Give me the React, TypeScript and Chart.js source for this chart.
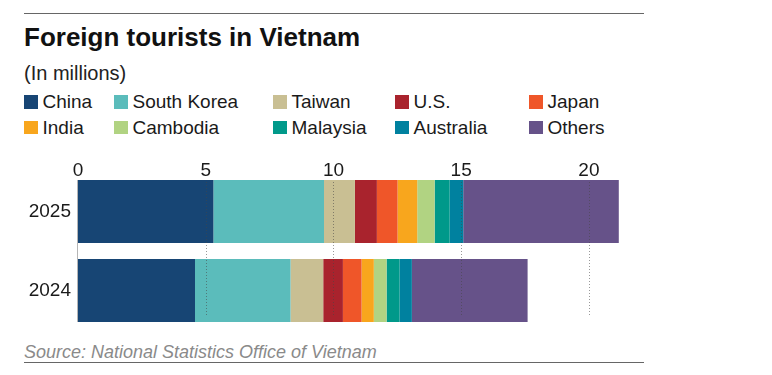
import React, { useEffect, useRef } from "react";
import { Chart, registerables } from "chart.js";

Chart.register(...registerables);

const years = ["2025", "2024"];
const seriesNames = ["China", "South Korea", "Taiwan", "U.S.", "Japan", "India", "Cambodia", "Malaysia", "Australia", "Others"];
const seriesColors = ["#174574", "#5bbcbb", "#c9bf93", "#a9232d", "#ef5629", "#f8a61d", "#b1d382", "#00998a", "#00819f", "#665289"];
const china = [5.3, 4.58];
const southKorea = [4.33, 3.74];
const taiwan = [1.21, 1.28];
const us = [0.86, 0.77];
const japan = [0.81, 0.73];
const india = [0.77, 0.48];
const cambodia = [0.68, 0.5];
const malaysia = [0.59, 0.51];
const australia = [0.53, 0.48];
const others = [6.09, 4.53];
const xTicks = [0, 5, 10, 15, 20];
const xMax = 22;

const FONT = '"Liberation Sans", Arial, Helvetica, sans-serif';

const legendCols = [24, 114, 273, 395, 529];

const overlayPlugin = {
  id: "overlay",
  afterDatasetsDraw(chart: any) {
    const { ctx, chartArea, scales } = chart;
    const x = scales.x;
    ctx.save();
    // dotted gridlines drawn over the bars
    ctx.strokeStyle = "rgba(70,70,70,0.55)";
    ctx.lineWidth = 1;
    ctx.setLineDash([1, 2]);
    xTicks.forEach((v) => {
      if (v === 0) return;
      const px = Math.round(x.getPixelForValue(v)) + 0.5;
      ctx.beginPath();
      ctx.moveTo(px, chartArea.top + 10);
      ctx.lineTo(px, chartArea.bottom - 14);
      ctx.stroke();
    });
    ctx.setLineDash([]);
    // left axis line
    ctx.strokeStyle = "#b5b5b5";
    const p0 = Math.round(x.getPixelForValue(0)) - 0.5;
    ctx.beginPath();
    ctx.moveTo(p0, chartArea.top + 8);
    ctx.lineTo(p0, chartArea.bottom - 8);
    ctx.stroke();
    ctx.restore();
  },
};

export default function App() {
  const ref = useRef<HTMLCanvasElement | null>(null);

  useEffect(() => {
    if (!ref.current) return;
    const values = [china, southKorea, taiwan, us, japan, india, cambodia, malaysia, australia, others];
    const chart = new Chart(ref.current, {
      type: "bar",
      data: {
        labels: years,
        datasets: seriesNames.map((name, i) => ({
          label: name,
          data: values[i],
          backgroundColor: seriesColors[i],
          borderWidth: 0,
          barPercentage: 0.8,
          categoryPercentage: 1.0,
        })),
      },
      options: {
        indexAxis: "y",
        animation: false,
        responsive: false,
        maintainAspectRatio: false,
        layout: { padding: { top: 0, left: 0, right: 20, bottom: 10 } },
        plugins: {
          legend: { display: false },
          title: { display: false },
          tooltip: { enabled: false },
        },
        scales: {
          x: {
            type: "linear",
            position: "top",
            stacked: true,
            min: 0,
            max: xMax,
            grid: { display: false, drawTicks: false },
            border: { display: false },
            ticks: {
              stepSize: 5,
              includeBounds: false,
              padding: -10,
              color: "#1a1a1a",
              font: { family: FONT, size: 19 },
              callback: (v: any) => (xTicks.includes(Number(v)) ? String(v) : ""),
            },
            afterFit: (scale: any) => {
              scale.height = 32;
              scale.paddingLeft = 0;
              scale.paddingRight = 0;
              // labels sit slightly below the axis box; do not clip them to it
              scale._computeLabelArea = () => undefined;
            },
          },
          y: {
            type: "category",
            stacked: true,
            grid: { display: false, drawTicks: false },
            border: { display: false },
            ticks: {
              padding: 7,
              color: "#1a1a1a",
              font: { family: FONT, size: 19 },
            },
            afterFit: (scale: any) => {
              scale.width = 78;
              scale.paddingTop = 0;
              scale.paddingBottom = 0;
            },
          },
        },
      },
      plugins: [overlayPlugin],
    });
    return () => chart.destroy();
  }, []);

  const text: React.CSSProperties = { position: "absolute", fontFamily: FONT, whiteSpace: "nowrap", margin: 0 };

  return (
    <div style={{ position: "fixed", left: 0, top: 0, width: 772, height: 375, background: "#fff", overflow: "hidden" }}>
      <div style={{ position: "absolute", left: 24, top: 13, width: 620, height: 1.3, background: "#666" }} />
      <div style={{ ...text, left: 24, top: 24, fontSize: 26, lineHeight: "26px", fontWeight: 700, color: "#111" }}>
        Foreign tourists in Vietnam
      </div>
      <div style={{ ...text, left: 24, top: 63, fontSize: 20, lineHeight: "20px", color: "#222" }}>(In millions)</div>
      {seriesNames.map((name, i) => {
        const row = Math.floor(i / 5);
        const col = i % 5;
        const left = legendCols[col];
        const rowTop = row === 0 ? 92 : 117.5;
        return (
          <React.Fragment key={name}>
            <div
              style={{
                position: "absolute",
                left,
                top: rowTop + 3.2,
                width: 14,
                height: 13.5,
                background: seriesColors[i],
              }}
            />
            <div style={{ ...text, left: left + 18.5, top: rowTop, fontSize: 19, lineHeight: "19px", color: "#1a1a1a" }}>
              {name}
            </div>
          </React.Fragment>
        );
      })}
      <div style={{ position: "absolute", left: 0, top: 140, width: 660, height: 200 }}>
        <canvas ref={ref} width={660} height={200} style={{ width: 660, height: 200, display: "block" }} />
      </div>
      <div style={{ ...text, left: 24, top: 342.5, fontSize: 18, lineHeight: "18px", fontStyle: "italic", color: "#8a8a8a" }}>
        Source: National Statistics Office of Vietnam
      </div>
      <div style={{ position: "absolute", left: 24, top: 361.5, width: 620, height: 1.3, background: "#666" }} />
    </div>
  );
}
